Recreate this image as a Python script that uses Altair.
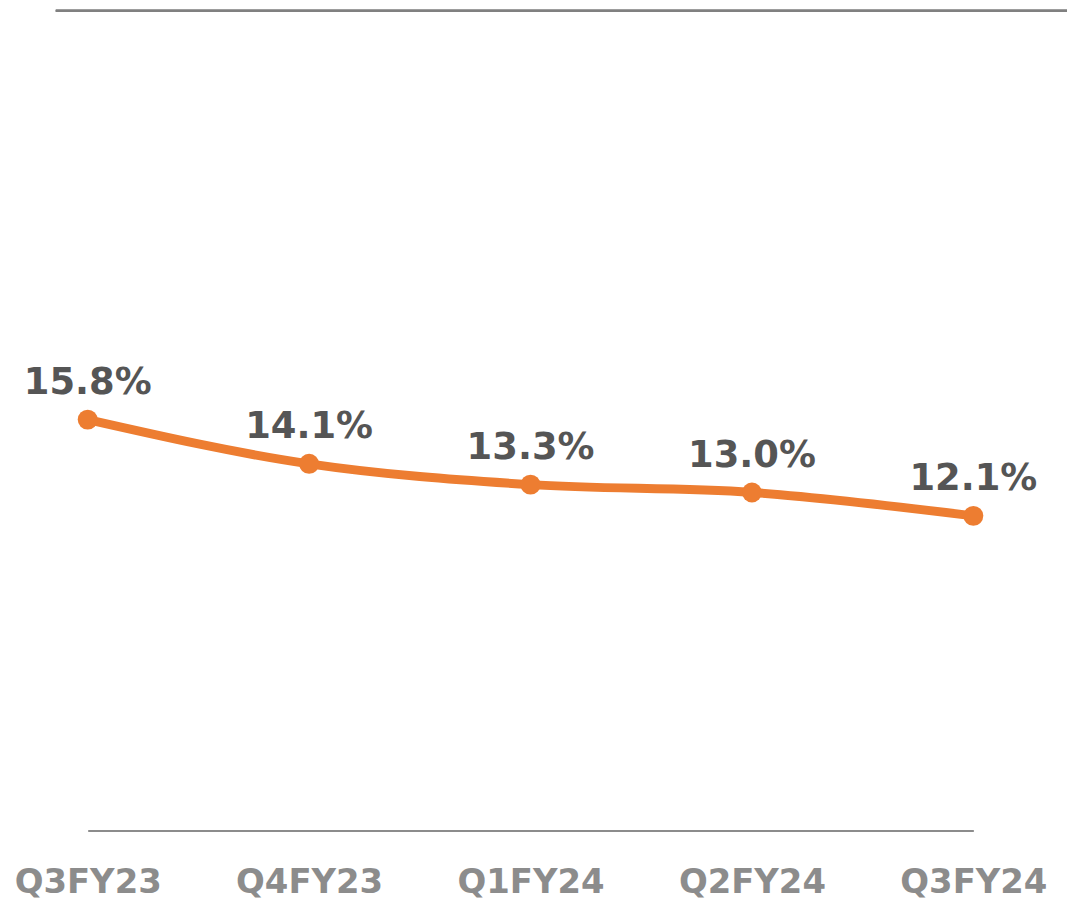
import altair as alt
import pandas as pd

quarters = ["Q3FY23", "Q4FY23", "Q1FY24", "Q2FY24", "Q3FY24"]
values = [15.8, 14.1, 13.3, 13.0, 12.1]
labels = ["15.8%", "14.1%", "13.3%", "13.0%", "12.1%"]

df = pd.DataFrame({"q": quarters, "v": values, "lab": labels})

FONT = "DejaVu Sans"
ORANGE = "#ED7D31"

x = alt.X("q:N", sort=quarters, title=None,
          scale=alt.Scale(type="point", range=[80, 969], padding=0),
          axis=alt.Axis(labelAngle=0, ticks=False, grid=False, domain=True,
                        domainColor="#8c8c8c", domainWidth=2,
                        labelFont=FONT, labelFontSize=34, labelFontWeight="bold",
                        labelColor="#8c8c8c", labelPadding=35))
y = alt.Y("v:Q", title=None, scale=alt.Scale(domain=[0, 31.1], nice=False, zero=True),
          axis=None)

base = alt.Chart(df)

line = base.mark_line(color=ORANGE, strokeWidth=9, interpolate="monotone").encode(x=x, y=y)
pts = base.mark_circle(color=ORANGE, size=400, opacity=1).encode(x=x, y=y)
txt = base.mark_text(font=FONT, fontSize=37, fontWeight="bold", color="#555555",
                     dy=-37, baseline="middle").encode(x=x, y=y, text="lab:N")

top_rule = alt.Chart(df).mark_rule(color="#808080", strokeWidth=2).encode(
    x=alt.value(48), x2=alt.value(1063), y=alt.value(-11))

chart = alt.layer(top_rule, line, pts, txt).properties(
    width=1060, height=812,
    autosize=alt.AutoSizeParams(type="none"),
    padding={"left": 0, "top": 12, "right": 4, "bottom": 76},
).configure_view(stroke=None)

chart.save("out.html", embed_options={"renderer": "svg", "actions": False})
